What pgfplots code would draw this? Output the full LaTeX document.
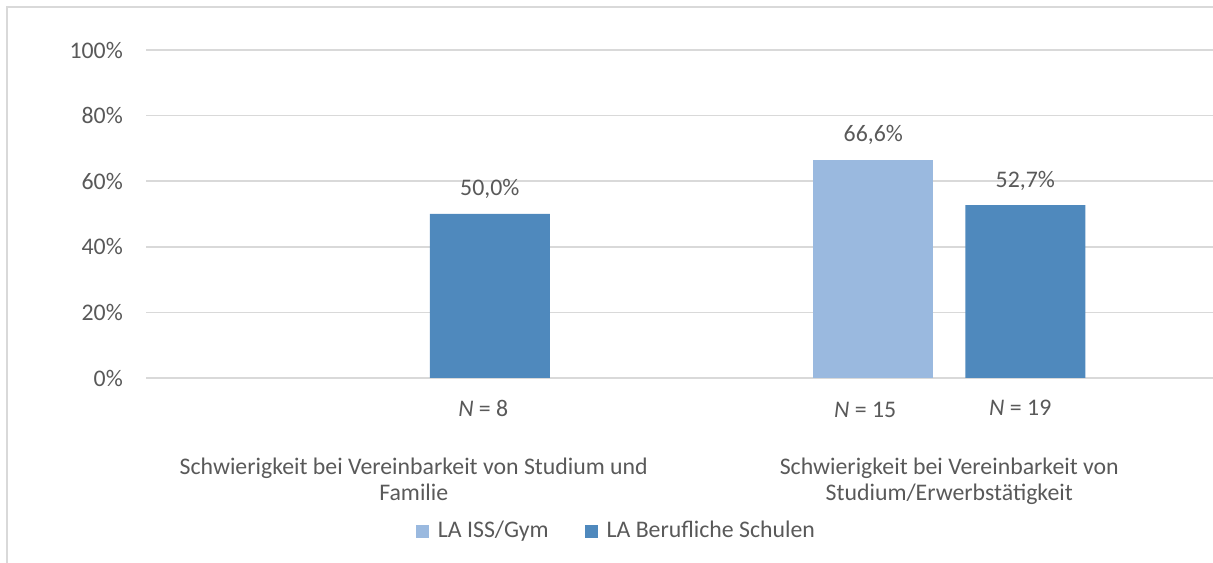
\documentclass[border=0pt]{standalone}
\usepackage{fontspec}
\setmainfont{Carlito}
\usepackage{pgfplots}
\pgfplotsset{compat=1.18}
\definecolor{lightb}{HTML}{9AB9DF}
\definecolor{darkb}{HTML}{4F89BD}
\definecolor{gridc}{HTML}{D9D9D9}
\definecolor{txt}{HTML}{595959}
\begin{document}
\fontsize{23.8bp}{26bp}\selectfont
\begin{tikzpicture}[x=1bp,y=1bp]
\useasboundingbox (0,0) rectangle (1213,563);
\draw[gridc, line width=1.8bp] (7,-20) -- (7,556) -- (1240,556);
\begin{axis}[
  at={(146bp,185bp)}, anchor=south west,
  scale only axis, width=1071bp, height=328bp,
  xmin=-0.5, xmax=1.5, ymin=0, ymax=100,
  clip=false,
  axis line style={draw=none},
  ybar=32bp, bar width=120bp,
  xtick={0,1},
  xticklabels={{Schwierigkeit bei Vereinbarkeit von Studium und\\Familie},{Schwierigkeit bei Vereinbarkeit von\\Studium/Erwerbstätigkeit}},
  xticklabel style={align=center, anchor=north, inner sep=0pt, yshift=-80bp, text=txt},
  ytick={0,20,40,60,80,100},
  yticklabels={0\%,20\%,40\%,60\%,80\%,100\%},
  yticklabel style={anchor=east, inner sep=0pt, xshift=-23bp, text=txt},
  major tick length=0pt,
  ymajorgrids, grid style={gridc, line width=1.6bp},
  point meta=explicit symbolic,
  nodes near coords,
  every node near coord/.append style={anchor=base, inner sep=0pt, yshift=18bp, text=txt},
  legend columns=2,
  legend style={at={(axis description cs:0.4393,-0.4665)}, anchor=center, draw=none, fill=none,
    text=txt, /tikz/every even column/.append style={column sep=34bp},
    /tikz/every odd column/.append style={column sep=7bp}, inner sep=0pt},
  legend image code/.code={\fill[#1] (0bp,-6.5bp) rectangle (13bp,6.5bp);},
  legend cell align=left,
]
\addplot[fill=lightb, draw=none] coordinates {(1,66.6) [66,6\%]};
\addplot[fill=darkb, draw=none] coordinates {(0,50.0) [50,0\%] (1,52.7) [52,7\%]};
\legend{LA ISS/Gym, LA Berufliche Schulen}
\node[text=txt] at (axis cs:0.1298,0) [yshift=-30bp] {\textit{N} = 8};
\node[text=txt] at (axis cs:0.843,0) [yshift=-32bp] {\textit{N} = 15};
\node[text=txt] at (axis cs:1.1326,0) [yshift=-30bp] {\textit{N} = 19};
\end{axis}
\end{tikzpicture}
\end{document}
